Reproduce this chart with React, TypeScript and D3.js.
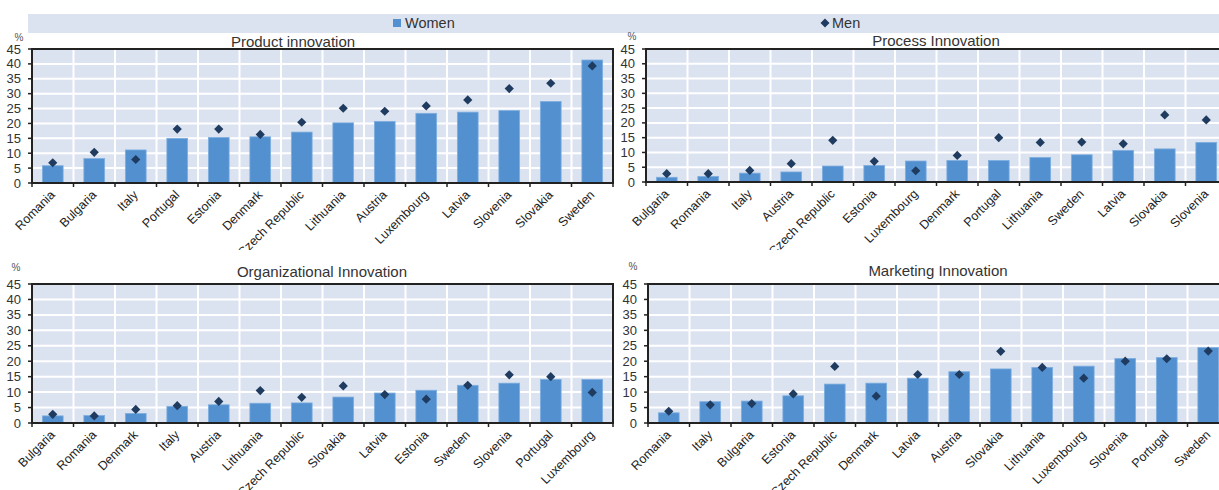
import React from "react";
import * as d3 from "d3";

const productCountries = ["Romania","Bulgaria","Italy","Portugal","Estonia","Denmark","Czech Republic","Lithuania","Austria","Luxembourg","Latvia","Slovenia","Slovakia","Sweden"];
const productWomen = [5.8,8.2,11.1,15.0,15.3,15.5,17.1,20.2,20.7,23.4,23.8,24.3,27.4,41.3];
const productMen = [6.8,10.3,7.9,18.1,18.1,16.3,20.4,25.1,24.1,25.9,27.9,31.7,33.5,39.3];

const processCountries = ["Bulgaria","Romania","Italy","Austria","Czech Republic","Estonia","Luxembourg","Denmark","Portugal","Lithuania","Sweden","Latvia","Slovakia","Slovenia"];
const processWomen = [1.6,1.9,3.0,3.4,5.4,5.6,7.1,7.3,7.3,8.3,9.2,10.7,11.2,13.4];
const processMen = [2.8,2.8,3.9,6.2,14.1,7.0,3.8,9.0,15.0,13.4,13.5,12.9,22.7,21.0];

const orgCountries = ["Bulgaria","Romania","Denmark","Italy","Austria","Lithuania","Czech Republic","Slovakia","Latvia","Estonia","Sweden","Slovenia","Portugal","Luxembourg"];
const orgWomen = [2.3,2.4,3.1,5.4,5.9,6.4,6.5,8.4,9.7,10.6,12.2,12.9,14.1,14.1];
const orgMen = [2.8,2.3,4.4,5.6,7.0,10.5,8.3,12.0,9.2,7.7,12.2,15.6,15.0,9.9];

const marketingCountries = ["Romania","Italy","Bulgaria","Estonia","Czech Republic","Denmark","Latvia","Austria","Slovakia","Lithuania","Luxembourg","Slovenia","Portugal","Sweden"];
const marketingWomen = [3.3,6.9,7.1,8.8,12.6,12.9,14.5,16.6,17.5,18.0,18.4,20.9,21.2,24.4];
const marketingMen = [3.8,5.9,6.3,9.4,18.3,8.7,15.7,15.7,23.2,18.0,14.5,20.0,20.8,23.3];

const yTicks = [0,5,10,15,20,25,30,35,40,45];
const seriesNames = ["Women","Men"];

const BG = "#dce3f0";
const BAR = "#5290d0";
const DIAMOND = "#1f3b5f";
const AXIS = "#222";
const FONT = "'Liberation Sans', Arial, sans-serif";

type PanelDef = {
  title: string; countries: string[]; women: number[]; men: number[];
  left: number; right: number; top: number; bottom: number;
  titleX: number; titleY: number; pctX: number; pctY: number; clipBottom: number;
};

const panels: PanelDef[] = [
  { title: "Product innovation", countries: productCountries, women: productWomen, men: productMen,
    left: 32, right: 613, top: 49, bottom: 183, titleX: 293, titleY: 47, pctX: 19, pctY: 41, clipBottom: 250 },
  { title: "Process Innovation", countries: processCountries, women: processWomen, men: processMen,
    left: 646, right: 1227, top: 49, bottom: 182, titleX: 936, titleY: 46, pctX: 632, pctY: 40, clipBottom: 250 },
  { title: "Organizational Innovation", countries: orgCountries, women: orgWomen, men: orgMen,
    left: 32, right: 613, top: 284, bottom: 423, titleX: 322, titleY: 277, pctX: 16, pctY: 271, clipBottom: 490 },
  { title: "Marketing Innovation", countries: marketingCountries, women: marketingWomen, men: marketingMen,
    left: 648, right: 1229, top: 284, bottom: 423, titleX: 938, titleY: 276, pctX: 633, pctY: 270, clipBottom: 490 },
];

function diamondPath(cx: number, cy: number, r: number) {
  return `M${cx},${cy - r}L${cx + r},${cy}L${cx},${cy + r}L${cx - r},${cy}Z`;
}

function Panel({ p, idx }: { p: PanelDef; idx: number }) {
  const x = d3.scaleBand<string>().domain(p.countries).range([p.left, p.right]).paddingInner(0.5).paddingOuter(0.25);
  const y = d3.scaleLinear().domain([0, 45]).range([p.bottom, p.top]);
  const step = x.step();
  const boundaries = p.countries.map((c) => (x(c) as number) - step * 0.25);
  boundaries.push(p.right);
  const clipId = `clip-${idx}`;
  return (
    <g>
      <defs>
        <clipPath id={clipId}>
          <rect x={p.left - 40} y={0} width={p.right - p.left + 80} height={p.clipBottom} />
        </clipPath>
      </defs>
      <rect x={p.left} y={p.top} width={p.right - p.left} height={p.bottom - p.top} fill={BG} />
      {yTicks.map((t) => (
        <line key={"h" + t} x1={p.left} x2={p.right} y1={y(t)} y2={y(t)} stroke="#fff" strokeWidth={2} />
      ))}
      {boundaries.map((b, i) => (
        <line key={"v" + i} x1={b} x2={b} y1={p.top} y2={p.bottom} stroke="#fff" strokeWidth={2} />
      ))}
      {p.countries.map((c, i) => (
        <rect key={"b" + c} x={x(c)} y={y(p.women[i])} width={x.bandwidth()} height={y(0) - y(p.women[i])}
          fill={BAR} stroke="#7eaee0" strokeWidth={0.8} />
      ))}
      {p.countries.map((c, i) => (
        <path key={"d" + c} d={diamondPath((x(c) as number) + x.bandwidth() / 2, y(p.men[i]), 4.6)} fill={DIAMOND} />
      ))}
      <rect x={p.left} y={p.top} width={p.right - p.left} height={p.bottom - p.top} fill="none" stroke={AXIS} strokeWidth={2} />
      {yTicks.map((t) => (
        <g key={"yt" + t}>
          <line x1={p.left - 4} x2={p.left} y1={y(t)} y2={y(t)} stroke={AXIS} strokeWidth={1.5} />
          <text x={p.left - 11} y={y(t)} dy="0.35em" textAnchor="end" fontSize={13} fill="#333" fontFamily={FONT}>{t}</text>
        </g>
      ))}
      {boundaries.map((b, i) => (
        <line key={"xt" + i} x1={b} x2={b} y1={p.bottom} y2={p.bottom + 4} stroke={AXIS} strokeWidth={1.5} />
      ))}
      <g clipPath={`url(#${clipId})`}>
        {p.countries.map((c) => {
          const cx = (x(c) as number) + x.bandwidth() / 2 + 3;
          const cy = p.bottom + 12.5;
          return (
            <text key={"xl" + c} transform={`translate(${cx},${cy}) rotate(-45)`} textAnchor="end"
              fontSize={12.5} fill="#222" fontFamily={FONT}>{c}</text>
          );
        })}
      </g>
      <text x={p.titleX} y={p.titleY} textAnchor="middle" fontSize={15} fill="#333" fontFamily={FONT}>{p.title}</text>
      <text x={p.pctX} y={p.pctY} textAnchor="middle" fontSize={10} fill="#555" fontFamily={FONT}>%</text>
    </g>
  );
}

export default function App() {
  return (
    <svg width={1219} height={490} style={{ position: "absolute", left: 0, top: 0, background: "#fff" }}>
      <rect x={28} y={14} width={1191} height={19} fill={BG} />
      <rect x={393} y={19} width={8} height={8} fill={BAR} />
      <text x={405} y={28} fontSize={14.5} fill="#333" fontFamily={FONT}>{seriesNames[0]}</text>
      <path d={diamondPath(825, 23, 4.5)} fill={DIAMOND} />
      <text x={832} y={28} fontSize={14.5} fill="#333" fontFamily={FONT}>{seriesNames[1]}</text>
      {panels.map((p, i) => (
        <Panel key={p.title} p={p} idx={i} />
      ))}
    </svg>
  );
}
